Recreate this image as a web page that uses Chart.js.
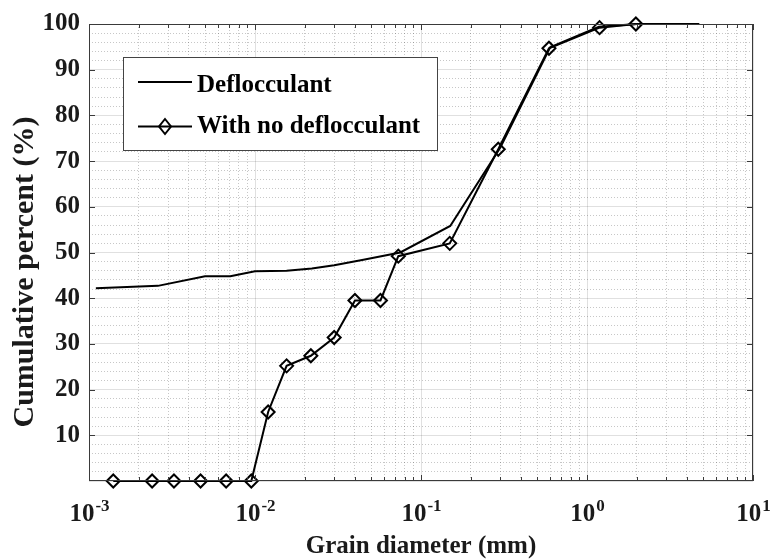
<!DOCTYPE html>
<html>
<head>
<meta charset="utf-8">
<script src="https://cdn.jsdelivr.net/npm/chart.js@4.4.1/dist/chart.umd.min.js"></script>
<style>
  html, body { margin: 0; padding: 0; background: #fff; }
  #wrap { width: 770px; height: 559px; }
</style>
</head>
<body>
<div id="wrap"><canvas id="chart" width="770" height="559"></canvas></div>
<script>
// grain size curves
const deflX = [0.0011, 0.0026, 0.005, 0.0071, 0.01, 0.0155, 0.022, 0.03, 0.045, 0.075, 0.15, 0.3, 0.6, 1.18, 2, 4.75];
const deflY = [42.2, 42.7, 44.8, 44.8, 45.9, 46.0, 46.5, 47.2, 48.4, 50.0, 55.8, 72.9, 94.9, 99.4, 100, 100];

const noDeflX = [0.0014, 0.0024, 0.00325, 0.0047, 0.0067, 0.0095, 0.012, 0.0155, 0.0217, 0.03, 0.04, 0.057, 0.073, 0.149, 0.292, 0.59, 1.19, 1.97];
const noDeflY = [0, 0, 0, 0, 0, 0, 15.1, 25.2, 27.4, 31.4, 39.5, 39.5, 49.2, 52.0, 72.6, 94.7, 99.2, 100];

const seriesNames = ["Deflocculant", "With no deflocculant"];
const xTickExps = [-3, -2, -1, 0, 1];
const yTickLabels = [10, 20, 30, 40, 50, 60, 70, 80, 90, 100];
const yTitle = "Cumulative percent (%)";

const FONT = "'Liberation Serif', 'Times New Roman', serif";
const MAJOR = "rgba(0,0,0,0.12)";
const MINOR = "rgba(0,0,0,0.22)";
const AXIS = "#3a3a3a";

function toPoints(xs, ys) {
  return xs.map((x, i) => ({ x: x, y: ys[i] }));
}

// every 1..9 x 10^k between the decades -> minor grid
function logGridValues() {
  const vals = [];
  for (let k = xTickExps[0]; k < xTickExps[xTickExps.length - 1]; k++) {
    for (let m = 1; m < 10; m++) vals.push(m * Math.pow(10, k));
  }
  vals.push(Math.pow(10, xTickExps[xTickExps.length - 1]));
  return vals;
}

function isDecade(v) {
  const l = Math.log10(v);
  return Math.abs(l - Math.round(l)) < 1e-6;
}

// box, inner tick marks, exponent tick labels, y title
const axesDeco = {
  id: "axesDeco",
  afterDraw(chart) {
    const ctx = chart.ctx;
    const a = chart.chartArea;
    const xs = chart.scales.x;
    const ys = chart.scales.y;
    ctx.save();
    ctx.strokeStyle = AXIS;
    ctx.lineWidth = 1;
    ctx.beginPath();
    xs.ticks.forEach(t => {
      const px = Math.round(xs.getPixelForValue(t.value)) + 0.5;
      const len = isDecade(t.value) ? 6 : 4;
      ctx.moveTo(px, a.bottom); ctx.lineTo(px, a.bottom - len);
      ctx.moveTo(px, a.top); ctx.lineTo(px, a.top + len);
    });
    yTickLabels.forEach(v => {
      const py = Math.round(ys.getPixelForValue(v)) + 0.5;
      ctx.moveTo(a.left, py); ctx.lineTo(a.left + 6, py);
      ctx.moveTo(a.right, py); ctx.lineTo(a.right - 6, py);
    });
    ctx.stroke();
    ctx.strokeRect(Math.round(a.left) + 0.5, Math.round(a.top) + 0.5,
      Math.round(a.right - a.left) - 1, Math.round(a.bottom - a.top) - 1);

    // 10^k labels
    ctx.fillStyle = "#1a1a1a";
    ctx.textBaseline = "alphabetic";
    ctx.textAlign = "left";
    xTickExps.forEach(k => {
      const px = xs.getPixelForValue(Math.pow(10, k));
      ctx.font = "bold 25px " + FONT;
      const w1 = ctx.measureText("10").width;
      ctx.font = "bold 17px " + FONT;
      const w2 = ctx.measureText(String(k)).width;
      const x0 = px - (w1 + w2) / 2;
      ctx.font = "bold 25px " + FONT;
      ctx.fillText("10", x0, a.bottom + 40);
      ctx.font = "bold 17px " + FONT;
      ctx.fillText(String(k), x0 + w1 + 1, a.bottom + 30);
    });

    // y title, rotated
    ctx.translate(25, 272);
    ctx.rotate(-Math.PI / 2);
    ctx.textAlign = "center";
    ctx.textBaseline = "middle";
    ctx.font = "bold 30px " + FONT;
    ctx.fillText(yTitle, 0, 0);
    ctx.restore();
  }
};

// framed legend inside the plot
const boxLegend = {
  id: "boxLegend",
  afterDraw(chart) {
    const ctx = chart.ctx;
    ctx.save();
    ctx.fillStyle = "#fff";
    ctx.fillRect(123, 57, 315, 94);
    ctx.strokeStyle = "#444";
    ctx.lineWidth = 1;
    ctx.strokeRect(123.5, 57.5, 314, 93);

    ctx.strokeStyle = "#000";
    ctx.lineWidth = 2;
    ctx.beginPath();
    ctx.moveTo(138, 82); ctx.lineTo(192, 82);
    ctx.moveTo(138, 126.5); ctx.lineTo(192, 126.5);
    ctx.stroke();
    ctx.beginPath();
    ctx.moveTo(165, 119); ctx.lineTo(171, 126.5); ctx.lineTo(165, 134); ctx.lineTo(159, 126.5);
    ctx.closePath();
    ctx.stroke();

    ctx.fillStyle = "#000";
    ctx.font = "bold 25px " + FONT;
    ctx.textBaseline = "alphabetic";
    ctx.fillText(seriesNames[0], 197, 92);
    ctx.fillText(seriesNames[1], 197, 133);
    ctx.restore();
  }
};

const chart = new Chart(document.getElementById("chart"), {
  type: "line",
  data: {
    datasets: [
      {
        label: seriesNames[0],
        data: toPoints(deflX, deflY),
        borderColor: "#000",
        borderWidth: 2,
        pointRadius: 0,
        tension: 0,
        clip: false
      },
      {
        label: seriesNames[1],
        data: toPoints(noDeflX, noDeflY),
        borderColor: "#000",
        borderWidth: 2,
        pointStyle: "rectRot",
        pointRadius: 6.5,
        pointBorderWidth: 2,
        pointBorderColor: "#000",
        pointBackgroundColor: "rgba(0,0,0,0)",
        tension: 0,
        clip: false
      }
    ]
  },
  options: {
    responsive: false,
    animation: false,
    events: [],
    layout: { padding: { top: 18, right: 17, left: 0, bottom: 0 } },
    plugins: {
      legend: { display: false },
      tooltip: { enabled: false }
    },
    scales: {
      x: {
        type: "logarithmic",
        min: 0.001,
        max: 10,
        afterBuildTicks: s => { s.ticks = logGridValues().map(v => ({ value: v })); },
        afterFit: s => { s.height = 78; },
        ticks: { display: false },
        grid: {
          drawTicks: false,
          lineWidth: 1,
          color: c => (c.tick && isDecade(c.tick.value)) ? MAJOR : MINOR
        },
        border: {
          display: false,
          dash: c => (c.tick && isDecade(c.tick.value)) ? [] : [1, 2]
        },
        title: {
          display: true,
          text: "Grain diameter (mm)",
          color: "#1a1a1a",
          font: { family: FONT, size: 25, weight: "bold", lineHeight: 1 },
          padding: { top: 0, bottom: 0 }
        }
      },
      y: {
        min: 0,
        max: 100,
        afterBuildTicks: s => {
          const t = [];
          for (let v = 0; v <= 100; v += 2) t.push({ value: v });
          s.ticks = t;
        },
        afterFit: s => { s.width = 89; },
        ticks: {
          autoSkip: false,
          padding: 9,
          color: "#1a1a1a",
          font: { family: FONT, size: 25, weight: "bold" },
          callback: v => yTickLabels.includes(v) ? String(v) : ""
        },
        grid: {
          drawTicks: false,
          lineWidth: 1,
          color: c => (c.tick && c.tick.value % 10 === 0) ? MAJOR : MINOR
        },
        border: {
          display: false,
          dash: c => (c.tick && c.tick.value % 10 === 0) ? [] : [1, 2]
        }
      }
    }
  },
  plugins: [axesDeco, boxLegend]
});
</script>
</body>
</html>
